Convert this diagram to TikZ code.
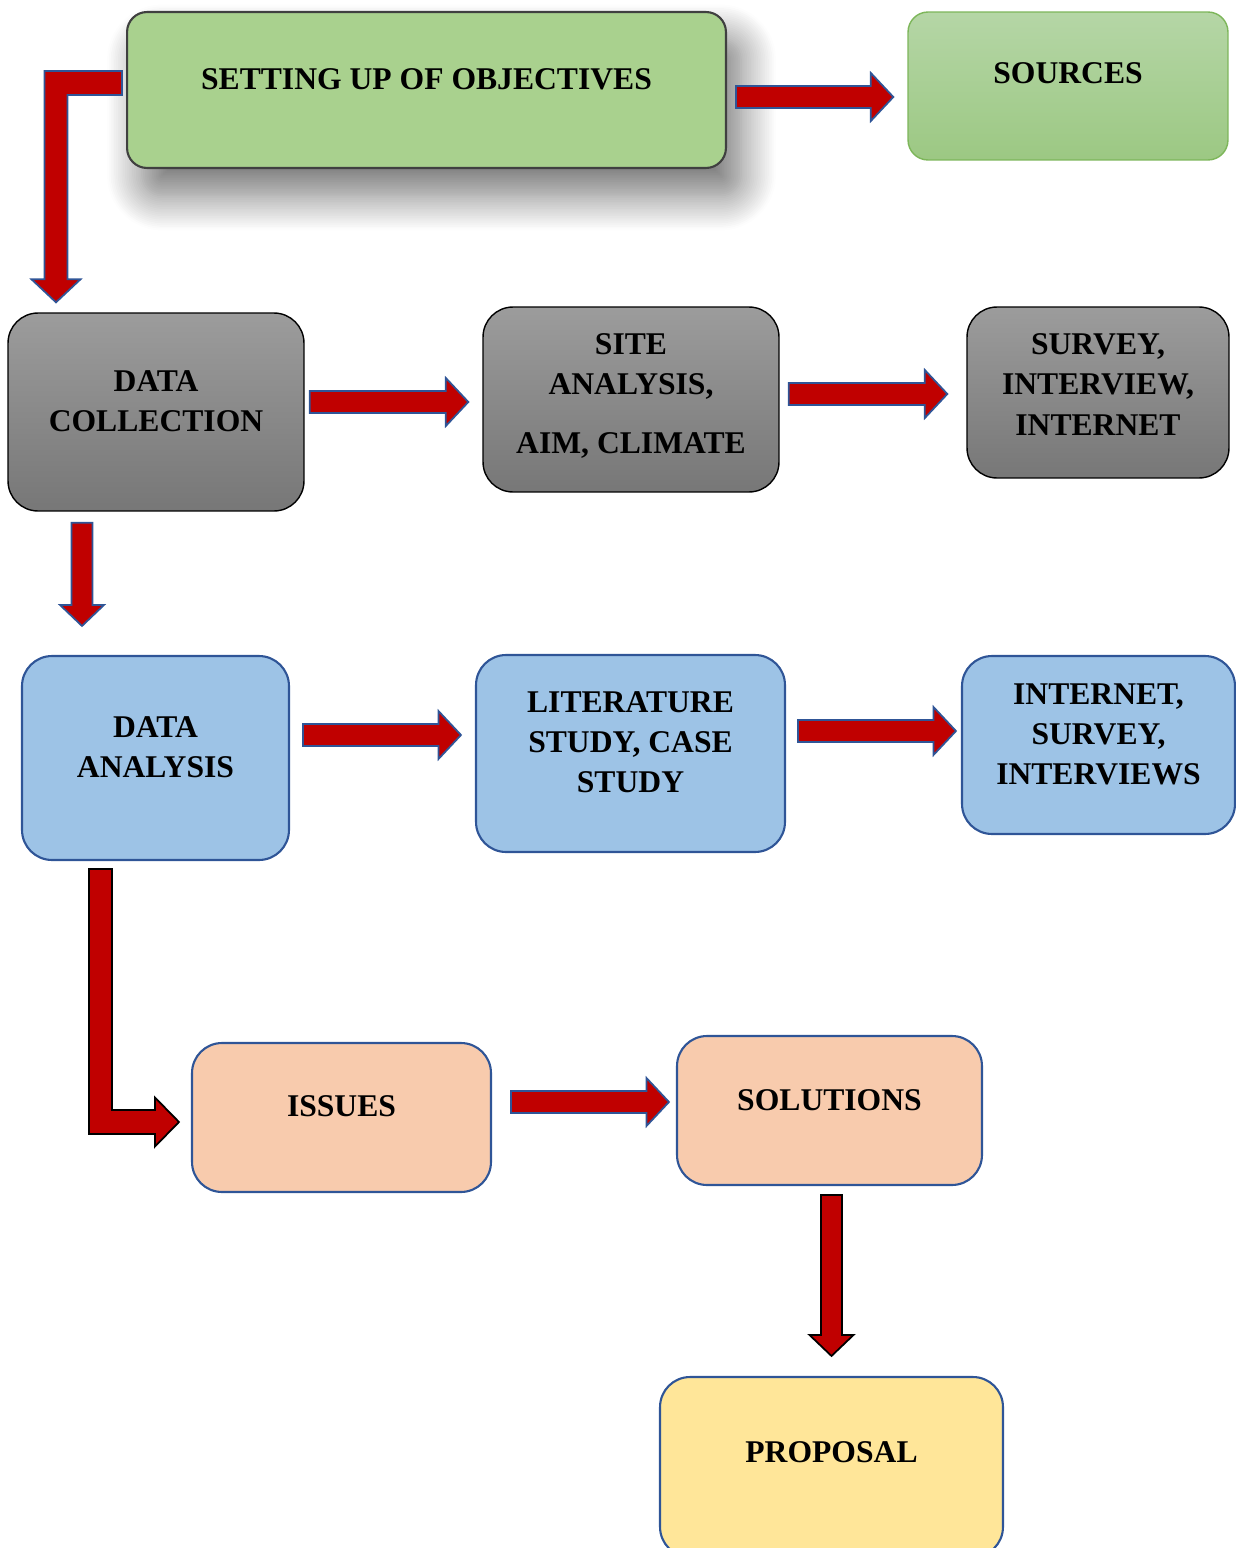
\documentclass[tikz,border=0pt]{standalone}
\usepackage{fontspec}
\setmainfont{Liberation Serif}
\usetikzlibrary{calc, shadows.blur}

\definecolor{arrowred}{HTML}{C00000}
\definecolor{edgeblue}{HTML}{2F5597}
\definecolor{boxblue}{HTML}{9DC3E6}
\definecolor{boxpeach}{HTML}{F8CBAD}
\definecolor{boxyellow}{HTML}{FFE699}
\definecolor{boxgreen}{HTML}{A9D18E}
\definecolor{srctop}{HTML}{B5D6A6}
\definecolor{srcbot}{HTML}{9CC883}
\definecolor{srcedge}{HTML}{7DB65A}
\definecolor{graytop}{HTML}{9C9C9C}
\definecolor{graybot}{HTML}{777777}

\begin{document}
\begin{tikzpicture}[x=0.02cm, y=-0.02cm,
    txt/.style={font=\bfseries\fontsize{18}{22.8}\selectfont, align=center},
    objbox/.style={rectangle, draw=black!75, line width=1.2pt, fill=boxgreen, rounded corners=0.4cm,
                   blur shadow={shadow xshift=0.3cm, shadow yshift=-0.55cm, shadow blur radius=0.7cm,
                                shadow opacity=55, shadow blur steps=20}},
    srcbox/.style={rectangle, draw=srcedge, line width=0.8pt, top color=srctop, bottom color=srcbot, rounded corners=0.4cm},
    graybox/.style={rectangle, draw=black, line width=0.8pt, top color=graytop, bottom color=graybot, rounded corners=0.6cm},
    bluebox/.style={rectangle, draw=edgeblue, line width=1.2pt, fill=boxblue, rounded corners=0.6cm},
    peachbox/.style={bluebox, fill=boxpeach},
    yellowbox/.style={bluebox, fill=boxyellow},
    fat/.style={draw=edgeblue, line width=1pt, fill=arrowred, line join=miter},
    fatk/.style={fat, draw=black},
    % block arrows: start = tail centre, target = tip
    rarrow/.style={to path={let \p1=(\tikztostart), \p2=(\tikztotarget) in
        (\x1,\y1+0.22cm) -- (\x2-0.45cm,\y1+0.22cm) -- (\x2-0.45cm,\y1+0.48cm) -- (\x2,\y1)
        -- (\x2-0.45cm,\y1-0.48cm) -- (\x2-0.45cm,\y1-0.22cm) -- (\x1,\y1-0.22cm) -- cycle}},
    darrow/.style={to path={let \p1=(\tikztostart), \p2=(\tikztotarget) in
        (\x1-0.21cm,\y1) -- (\x1-0.21cm,\y2+0.42cm) -- (\x1-0.44cm,\y2+0.42cm) -- (\x1,\y2)
        -- (\x1+0.44cm,\y2+0.42cm) -- (\x1+0.21cm,\y2+0.42cm) -- (\x1+0.21cm,\y1) -- cycle}},
    ldarrow/.style={to path={let \p1=(\tikztostart), \p2=(\tikztotarget) in
        (\x1,\y1+0.24cm) -- (\x2-0.23cm,\y1+0.24cm) -- (\x2-0.23cm,\y2+0.46cm) -- (\x2-0.49cm,\y2+0.46cm) -- (\x2,\y2)
        -- (\x2+0.49cm,\y2+0.46cm) -- (\x2+0.23cm,\y2+0.46cm) -- (\x2+0.23cm,\y1-0.24cm) -- (\x1,\y1-0.24cm) -- cycle}},
    drarrow/.style={to path={let \p1=(\tikztostart), \p2=(\tikztotarget) in
        (\x1-0.23cm,\y1) -- (\x1-0.23cm,\y2-0.24cm) -- (\x2-0.48cm,\y2-0.24cm) -- (\x2-0.48cm,\y2-0.49cm) -- (\x2,\y2)
        -- (\x2-0.48cm,\y2+0.49cm) -- (\x2-0.48cm,\y2+0.24cm) -- (\x1+0.23cm,\y2+0.24cm) -- (\x1+0.23cm,\y1) -- cycle}}
]
\useasboundingbox (0,0) rectangle (1236,1548);

\node[objbox, minimum width=11.98cm, minimum height=3.12cm,
      label={[txt, yshift=0.21cm]center:SETTING UP OF OBJECTIVES}] (set) at (426.5,90) {};
\node[srcbox, minimum width=6.4cm, minimum height=2.96cm,
      label={[txt, yshift=0.25cm]center:SOURCES}] (src) at (1068,86) {};

\node[graybox, minimum width=5.92cm, minimum height=3.96cm,
      label={[txt, yshift=0.21cm]center:DATA\\COLLECTION}] (dc) at (156,412) {};
\node[graybox, minimum width=5.92cm, minimum height=3.7cm,
      label={[txt, yshift=0.07cm]center:{SITE\\ANALYSIS,\\[0.38cm]AIM, CLIMATE}}] (sa) at (631,399.5) {};
\node[graybox, minimum width=5.24cm, minimum height=3.42cm,
      label={[txt, yshift=0.16cm]center:{SURVEY,\\INTERVIEW,\\INTERNET}}] (siv) at (1098,392.5) {};

\node[bluebox, minimum width=5.34cm, minimum height=4.08cm,
      label={[txt, yshift=0.22cm]center:DATA\\ANALYSIS}] (da) at (155.5,758) {};
\node[bluebox, minimum width=6.18cm, minimum height=3.94cm,
      label={[txt, yshift=0.22cm]center:{LITERATURE\\STUDY, CASE\\STUDY}}] (ls) at (630.5,753.5) {};
\node[bluebox, minimum width=5.46cm, minimum height=3.56cm,
      label={[txt, yshift=0.21cm]center:{INTERNET,\\SURVEY,\\INTERVIEWS}}] (isi) at (1098.5,745) {};

\node[peachbox, minimum width=5.98cm, minimum height=2.98cm,
      label={[txt, yshift=0.22cm]center:ISSUES}] (is) at (341.5,1117.5) {};
\node[peachbox, minimum width=6.1cm, minimum height=2.98cm,
      label={[txt, yshift=0.2cm]center:SOLUTIONS}] (sol) at (829.5,1110.5) {};
\node[yellowbox, minimum width=6.86cm, minimum height=3.6cm,
      label={[txt, yshift=0.29cm]center:PROPOSAL}] (pro) at (831.5,1467) {};

% straight arrows
\draw[fat] ($(set.east)+(9,7)$)    to[rarrow] ([xshift=-0.28cm]src.west);
\draw[fat] ($(dc.east)+(5,-10)$)   to[rarrow] ([xshift=-0.28cm]sa.west);
\draw[fat] ($(sa.east)+(9,-5.5)$)  to[rarrow] ([xshift=-0.38cm]siv.west);
\draw[fat] ($(da.east)+(13,-23)$)  to[rarrow] ([xshift=-0.28cm]ls.west);
\draw[fat] ($(ls.east)+(12,-22.5)$) to[rarrow] ([xshift=-0.1cm]isi.west);
\draw[fat] ($(is.east)+(19,-15.5)$) to[rarrow] ([xshift=-0.14cm]sol.west);
\draw[fat] ($(dc.south)+(-74,11)$) to[darrow] ($(da.north)+(0,-29)$);
\draw[fatk] ($(sol.south)+(2,9)$)  to[darrow] ($(pro.north)+(0,-20)$);

% bent arrows
\draw[fat] ($(set.west)+(-4,-7)$)   to[ldarrow] ($(dc.north)+(-100,-10)$);
\draw[fatk] ($(da.south)+(-55,8)$)  to[drarrow] ($(is.west)+(-12,4.5)$);

\end{tikzpicture}
\end{document}
